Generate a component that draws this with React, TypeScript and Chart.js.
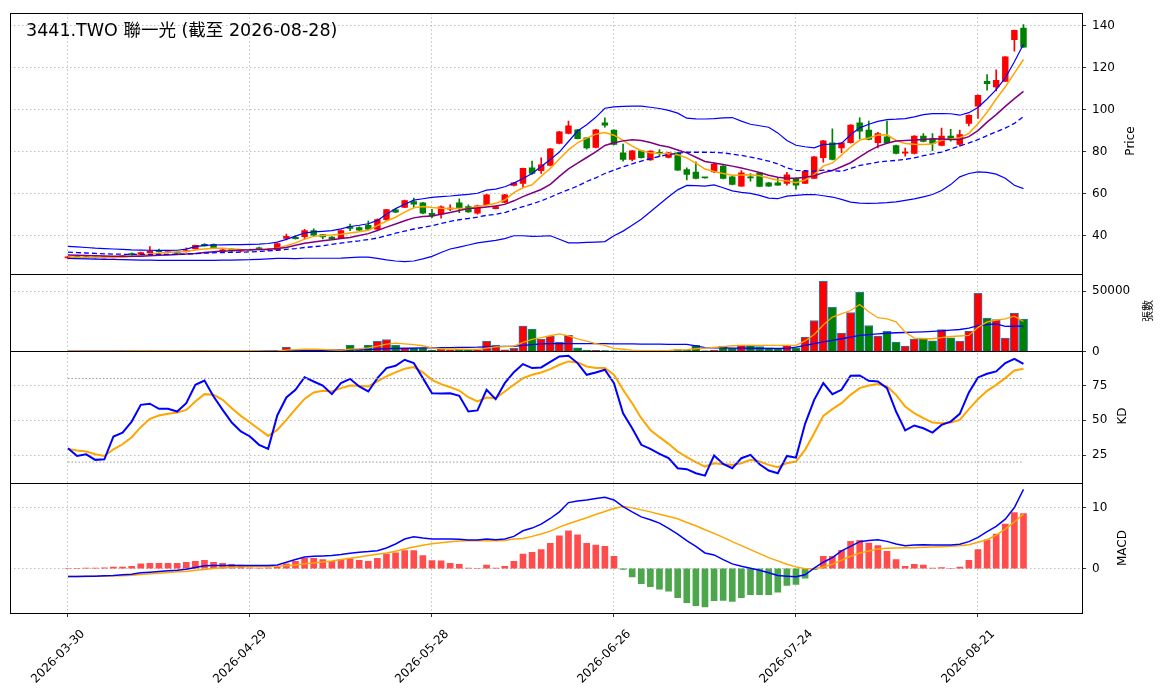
import { useEffect, useRef } from "react"
import { Chart, registerables } from "chart.js"

Chart.register(...registerables)

const TITLE = "3441.TWO 聯一光 (截至 2026-08-28)"

// x ticks (trading-day index -> date label)
const TICK_POS = [0, 20, 40, 60, 80, 100]
const TICK_LABELS = ["2026-03-30", "2026-04-29", "2026-05-28", "2026-06-26", "2026-07-24", "2026-08-21"]

const PRICE_TICKS = [40, 60, 80, 100, 120, 140]
const VOL_TICKS = [0, 50000]
const KD_TICKS = [25, 50, 75]
const MACD_TICKS = [0, 10]
const KD_LEVELS = [80, 20]

// daily candles
const OPEN = [
  29.5, 29.9, 29.8, 29.7, 29.5, 29.5, 29.9, 31.4, 31.1, 32.0,
  32.9, 32.0, 32.2, 32.4, 33.8, 35.9, 35.9, 32.5, 33.7, 32.7,
  33.3, 34.3, 33.2, 33.2, 38.7, 39.2, 39.5, 42.5, 40.5, 39.4,
  38.9, 44.4, 43.9, 45.0, 43.1, 47.6, 52.3, 53.5, 56.2, 55.7,
  50.6, 50.2, 52.6, 55.7, 53.9, 50.7, 54.8, 52.9, 55.8, 63.9,
  64.9, 72.3, 70.9, 73.4, 83.9, 88.6, 90.4, 86.6, 82.0, 93.7,
  90.2, 79.4, 76.3, 80.4, 76.0, 79.6, 77.2, 79.4, 71.4, 70.3,
  67.7, 70.3, 73.1, 68.0, 63.6, 68.0, 69.9, 65.2, 65.2, 64.9,
  67.3, 64.9, 67.3, 77.1, 84.2, 81.7, 84.2, 93.7, 90.2, 84.2,
  87.0, 82.9, 79.3, 79.1, 87.4, 86.1, 82.9, 87.4, 83.4, 93.4,
  101.6, 113.4, 110.8, 113.4, 133.2, 138.7,
]
const HIGH = [
  30.3, 30.1, 30.0, 29.9, 29.9, 30.2, 30.6, 31.9, 32.2, 34.8,
  33.6, 32.6, 32.5, 34.2, 35.6, 36.3, 36.1, 33.6, 34.0, 33.4,
  33.6, 34.6, 33.9, 36.5, 40.8, 40.0, 43.0, 43.3, 40.6, 39.6,
  42.7, 45.6, 44.2, 47.0, 48.0, 52.6, 52.6, 56.9, 57.9, 55.9,
  52.6, 54.2, 54.7, 57.5, 54.7, 54.6, 59.7, 54.2, 59.7, 65.4,
  72.2, 75.5, 77.0, 81.5, 89.6, 94.5, 90.6, 86.8, 90.6, 96.0,
  90.4, 83.6, 80.6, 80.6, 80.4, 81.0, 79.6, 79.6, 72.3, 75.1,
  67.8, 74.6, 73.3, 68.2, 71.0, 69.6, 70.1, 65.4, 67.4, 70.1,
  67.5, 70.8, 77.7, 85.3, 90.8, 84.4, 92.8, 96.1, 94.5, 89.2,
  94.5, 83.1, 81.7, 87.6, 88.6, 88.6, 91.2, 90.6, 90.2, 97.5,
  107.0, 116.6, 118.9, 125.2, 137.8, 140.4,
]
const LOW = [
  29.0, 29.3, 29.3, 29.2, 29.3, 29.3, 29.7, 30.8, 30.9, 31.8,
  32.2, 31.8, 31.5, 32.2, 33.6, 35.0, 34.1, 32.3, 32.6, 32.5,
  32.8, 33.5, 33.0, 33.0, 38.0, 38.4, 38.4, 40.0, 38.5, 38.2,
  38.7, 42.4, 42.5, 42.9, 42.9, 47.3, 51.0, 53.3, 53.5, 50.5,
  48.6, 48.3, 51.9, 51.0, 51.1, 50.2, 54.6, 52.7, 55.6, 63.7,
  62.8, 69.2, 69.6, 73.2, 83.7, 88.4, 86.0, 81.2, 81.8, 91.6,
  83.2, 75.5, 75.6, 76.9, 75.8, 77.6, 77.0, 71.0, 66.5, 67.0,
  67.4, 70.0, 67.0, 64.2, 63.4, 66.0, 63.3, 63.4, 63.9, 64.0,
  62.1, 64.7, 67.1, 75.0, 76.1, 79.5, 84.0, 86.0, 85.6, 81.7,
  84.0, 78.9, 77.8, 78.9, 84.6, 80.5, 82.7, 85.0, 82.6, 92.2,
  95.8, 109.2, 108.9, 113.2, 127.8, 129.5,
]
const CLOSE = [
  29.8, 29.6, 29.5, 29.4, 29.6, 29.9, 30.4, 31.0, 32.0, 32.6,
  32.4, 32.3, 31.7, 33.0, 35.4, 35.2, 34.3, 33.3, 32.8, 33.1,
  33.0, 33.7, 33.6, 36.3, 39.7, 38.6, 42.4, 40.3, 39.4, 38.4,
  42.5, 43.5, 42.7, 43.1, 47.7, 52.4, 51.2, 56.7, 55.0, 50.7,
  49.4, 53.7, 53.2, 53.4, 51.3, 54.2, 59.5, 53.9, 59.5, 65.2,
  72.0, 69.6, 73.7, 81.3, 89.4, 92.3, 86.2, 81.8, 90.4, 92.6,
  83.4, 76.3, 80.4, 77.1, 80.2, 79.0, 79.4, 71.2, 69.2, 67.3,
  67.5, 73.9, 67.2, 64.4, 69.9, 67.5, 63.5, 63.6, 64.1, 69.0,
  64.0, 70.6, 77.5, 85.1, 76.3, 84.2, 92.6, 89.7, 85.8, 88.6,
  84.2, 79.1, 79.5, 87.4, 84.8, 83.9, 87.4, 85.8, 88.1, 97.3,
  106.8, 112.3, 113.9, 125.0, 137.6, 129.7,
]

// price overlays
const MA5 = [
  29.9, 29.8, 29.7, 29.6, 29.6, 29.6, 29.8, 30.1, 30.6, 31.3,
  31.7, 32.1, 32.3, 32.5, 33.2, 33.7, 34.0, 34.0, 33.7, 33.4,
  33.3, 33.4, 33.5, 34.1, 35.2, 36.6, 38.4, 39.7, 40.1, 40.3,
  40.7, 41.3, 41.9, 42.6, 44.8, 47.0, 48.8, 51.2, 53.3, 53.9,
  53.4, 53.1, 52.9, 52.9, 52.9, 53.9, 54.5, 55.4, 57.0, 60.5,
  62.8, 64.2, 68.3, 72.0, 76.5, 80.8, 84.2, 86.4, 88.3, 89.1,
  87.8, 85.3, 82.6, 80.4, 79.4, 79.1, 79.0, 78.5, 77.0, 74.5,
  71.7, 70.5, 69.6, 68.8, 68.9, 69.0, 68.5, 67.5, 66.4, 66.2,
  65.2, 66.5, 69.0, 73.1, 74.6, 78.3, 82.2, 85.5, 86.5, 87.9,
  88.0, 85.3, 83.8, 83.5, 83.4, 83.6, 85.4, 86.0, 86.6, 88.7,
  93.2, 98.7, 105.0, 110.8, 117.3, 123.8,
]
const MA10 = [
  30.8, 30.7, 30.6, 30.5, 30.4, 30.3, 30.2, 30.2, 30.3, 30.5,
  30.7, 30.9, 31.1, 31.3, 31.6, 32.0, 32.4, 32.7, 32.9, 33.2,
  33.3, 33.5, 33.6, 33.9, 34.4, 35.5, 36.4, 37.0, 37.6, 38.1,
  38.7, 39.2, 40.1, 41.0, 42.5, 44.1, 45.6, 47.1, 48.5, 49.1,
  49.4, 50.2, 51.0, 52.0, 52.9, 53.2, 53.7, 54.1, 54.9, 56.6,
  58.6, 60.3, 62.0, 64.4, 68.2, 71.8, 74.5, 77.2, 79.9, 82.9,
  84.2, 85.1, 85.6, 85.3, 84.3, 83.0, 82.2, 80.8, 79.4, 77.3,
  75.3, 74.6, 73.9, 73.1, 72.2, 71.2, 70.1, 68.8, 67.8, 67.3,
  67.3, 67.8, 68.5, 70.0, 71.0, 72.8, 74.7, 77.5, 80.2, 82.5,
  84.0, 85.0, 85.3, 85.5, 85.8, 86.1, 86.0, 85.8, 85.8, 87.1,
  90.0, 94.0, 97.6, 101.5, 105.2, 108.6,
]
const BB_UPPER = [
  34.9, 34.7, 34.4, 34.1, 33.9, 33.7, 33.5, 33.3, 33.2, 33.1,
  33.0, 33.0, 33.1, 33.6, 34.8, 35.4, 35.6, 35.7, 35.8, 35.8,
  35.9, 36.0, 36.3, 37.0, 38.3, 39.8, 41.3, 41.8, 42.1, 42.4,
  43.3, 44.4, 45.0, 45.7, 47.3, 50.2, 52.9, 55.0, 56.9, 57.6,
  58.2, 58.6, 58.9, 59.3, 59.7, 60.2, 61.7, 62.2, 63.3, 65.0,
  67.2, 69.6, 72.9, 76.2, 79.8, 84.8, 89.8, 92.8, 96.3, 100.6,
  101.3, 101.5, 101.6, 101.6, 101.1, 100.5, 99.6, 98.3, 95.9, 95.6,
  95.5, 95.7, 96.0, 96.2, 94.5, 93.0, 92.3, 91.6, 88.9, 85.3,
  83.0, 82.3, 81.8, 83.4, 83.6, 83.9, 88.0, 91.3, 93.0, 94.4,
  95.2, 95.4, 95.7, 96.5, 97.6, 98.1, 98.1, 98.0, 97.3, 98.5,
  101.0, 105.0, 109.5, 115.0, 122.7, 131.0,
]
const BB_MID = [
  32.2, 32.0, 31.8, 31.6, 31.4, 31.3, 31.2, 31.1, 31.1, 31.1,
  31.1, 31.1, 31.2, 31.3, 31.5, 31.7, 31.9, 32.0, 32.1, 32.2,
  32.3, 32.5, 32.8, 33.1, 33.5, 33.9, 34.4, 34.8, 35.2, 35.9,
  36.5, 37.1, 37.6, 38.2, 38.9, 40.0, 41.2, 42.2, 43.2, 44.0,
  44.8, 45.8, 46.8, 47.6, 48.2, 48.9, 49.7, 50.2, 51.0, 52.5,
  53.8, 55.1, 56.6, 58.3, 60.2, 61.9, 63.6, 65.8, 67.5, 69.6,
  71.2, 72.8, 74.2, 75.5, 76.6, 77.7, 78.6, 79.2, 79.7, 79.7,
  79.7, 79.6, 79.4, 78.8, 78.2, 77.4, 76.5, 75.5, 74.2, 72.2,
  71.1, 70.9, 70.7, 71.2, 71.0, 70.6, 72.0, 73.4, 74.2, 75.0,
  75.5, 75.8, 76.3, 77.0, 78.1, 78.9, 79.8, 81.2, 82.7, 84.1,
  85.7, 87.6, 89.4, 91.2, 93.4, 96.7,
]
const BB_LOWER = [
  29.2, 29.1, 29.0, 28.9, 28.8, 28.7, 28.6, 28.5, 28.4, 28.4,
  28.3, 28.3, 28.3, 28.3, 28.3, 28.3, 28.3, 28.4, 28.4, 28.5,
  28.6, 28.8, 29.0, 29.2, 29.2, 29.1, 29.3, 29.3, 29.3, 29.3,
  29.4, 29.6, 29.8, 29.8, 29.2, 28.5, 28.0, 27.7, 28.0, 29.0,
  30.2, 32.0, 33.7, 34.6, 35.6, 36.6, 37.2, 37.8, 38.6, 40.0,
  40.0, 39.7, 39.8, 40.0, 38.3, 36.6, 36.6, 36.8, 37.0, 37.2,
  40.0, 42.2, 45.0, 47.8, 51.4, 55.0, 58.5, 61.8, 63.9, 63.8,
  63.6, 64.2, 62.8, 61.3, 60.6, 60.1, 59.2, 57.9, 57.6, 58.8,
  59.2, 59.5, 59.6, 59.0, 58.4, 57.3, 56.0, 55.5, 55.4, 55.5,
  55.7, 56.1, 56.8, 57.5, 58.5, 59.6, 61.5, 64.3, 68.0, 69.6,
  70.4, 70.1, 69.3, 67.3, 64.0, 62.4,
]

// volume (張) and its averages
const VOLUME = [
  300, 250, 200, 280, 220, 300, 350, 400, 380, 450,
  350, 300, 280, 380, 500, 420, 400, 300, 320, 250,
  280, 300, 280, 600, 3600, 800, 1900, 1400, 800, 600,
  1500, 5200, 900, 5200, 8300, 9900, 5200, 2500, 3000, 3000,
  1000, 1900, 1400, 1900, 1400, 1400, 8600, 5200, 1300, 2500,
  21000, 18500, 10200, 12700, 7700, 13300, 3000, 1100, 800, 600,
  500, 400, 400, 300, 300, 300, 500, 1500, 1100, 5000,
  500, 1100, 4400, 2500, 5200, 5200, 4100, 3000, 2500, 5200,
  3000, 11900, 25700, 58300, 36700, 15200, 32300, 49200, 21500, 12700,
  16600, 7700, 4400, 10200, 11000, 8800, 18200, 11300, 8600, 16800,
  48300, 27600, 26500, 11000, 31800, 26800,
]
const VOL_MA5 = [
  300, 280, 260, 260, 250, 260, 300, 330, 350, 380,
  390, 380, 350, 350, 380, 390, 400, 400, 380, 340,
  310, 300, 290, 350, 1100, 1400, 1800, 1900, 1600, 1200,
  1100, 1900, 2300, 3000, 4400, 6000, 6800, 6200, 5600, 4700,
  3000, 2200, 2000, 1800, 1600, 1600, 2800, 3700, 4000, 4300,
  7500, 10000, 11500, 13000, 14600, 13000, 10500, 8500, 6500, 5000,
  2500, 1800, 1100, 700, 550, 600, 800, 1200, 1500, 2200,
  2800, 3400, 4000, 4700, 5000, 5000, 5000, 5000, 5000, 5000,
  5000, 8700, 14000, 22000, 28500, 31200, 34000, 39000, 33000, 28000,
  27000, 24500, 16000, 11000, 10500, 10500, 11500, 12400, 12800, 13300,
  20000, 24500, 26000, 27000, 29300, 24900,
]
const VOL_MA20 = [
  200, 200, 200, 200, 200, 200, 200, 200, 200, 200,
  200, 200, 200, 200, 200, 200, 200, 200, 200, 200,
  250, 300, 350, 450, 650, 700, 800, 900, 950, 1000,
  1050, 1200, 1300, 1550, 1900, 2300, 2500, 2600, 2800, 2950,
  3000, 3100, 3200, 3300, 3400, 3500, 3800, 4000, 4100, 4200,
  5000, 5700, 6300, 6400, 6400, 6500, 6400, 6400, 6400, 6400,
  6300, 6300, 6200, 6100, 6000, 6000, 5900, 5800, 5800, 4500,
  3200, 3000, 2900, 2800, 2700, 2600, 2500, 2500, 2500, 2500,
  3500, 5000, 6500, 8000, 9200, 10500, 11800, 13300, 14000, 14600,
  15100, 15500, 15700, 16000, 16300, 16700, 17000, 17600, 18200, 19300,
  21500, 22300, 22900, 20800, 20900, 21000,
]

// stochastic
const K = [
  30.0, 24.4, 25.6, 21.6, 22.0, 38.4, 41.2, 49.1, 61.1, 61.9,
  58.3, 58.3, 56.3, 62.3, 75.5, 78.6, 67.1, 57.5, 48.4, 42.0,
  38.4, 32.4, 29.5, 53.5, 66.4, 71.9, 81.0, 77.9, 75.0, 68.8,
  76.7, 79.8, 74.3, 70.7, 80.3, 87.5, 89.2, 93.5, 91.1, 80.3,
  69.5, 69.3, 69.5, 67.6, 56.3, 57.1, 71.9, 65.2, 76.7, 84.6,
  90.4, 87.5, 88.0, 92.0, 95.9, 96.4, 91.1, 82.7, 84.4, 86.3,
  76.7, 55.1, 44.3, 32.4, 29.5, 25.9, 22.8, 15.6, 14.9, 12.0,
  10.3, 24.7, 18.7, 15.6, 22.8, 25.2, 18.4, 13.9, 12.0, 24.4,
  23.2, 47.5, 64.7, 76.7, 68.8, 71.9, 82.0, 82.2, 78.4, 77.9,
  73.1, 56.3, 42.7, 46.3, 44.3, 41.2, 46.7, 49.1, 54.7, 70.0,
  80.8, 83.4, 85.1, 91.1, 94.2, 90.6,
]
const D = [
  29.5, 28.3, 27.6, 25.6, 24.4, 29.2, 32.8, 37.9, 45.1, 51.1,
  53.5, 54.7, 55.6, 57.5, 63.5, 68.8, 68.3, 64.7, 58.7, 53.2,
  48.4, 43.6, 38.8, 43.1, 50.3, 58.0, 65.4, 70.0, 71.2, 70.7,
  73.1, 75.0, 74.8, 74.3, 77.9, 81.5, 84.4, 87.0, 88.2, 84.4,
  79.1, 76.0, 73.8, 71.4, 66.6, 63.5, 66.4, 65.9, 70.7, 75.5,
  80.3, 82.7, 84.4, 86.8, 89.9, 92.3, 91.6, 88.7, 87.5, 87.5,
  82.7, 71.9, 62.3, 51.5, 43.1, 37.9, 33.1, 27.6, 23.5, 19.9,
  16.8, 19.2, 18.4, 18.0, 19.2, 21.6, 20.4, 18.0, 16.3, 19.2,
  20.4, 28.8, 40.7, 53.2, 58.0, 62.3, 68.3, 73.1, 75.0, 76.0,
  74.3, 68.3, 59.9, 55.1, 51.5, 48.4, 47.9, 48.4, 50.3, 58.0,
  65.2, 71.2, 75.5, 80.3, 85.8, 87.0,
]

// MACD
const DIF = [
  -1.31, -1.31, -1.26, -1.26, -1.2, -1.15, -1.04, -0.93, -0.71, -0.6,
  -0.49, -0.38, -0.27, -0.11, 0.16, 0.44, 0.49, 0.49, 0.49, 0.49,
  0.49, 0.49, 0.49, 0.6, 1.04, 1.48, 1.91, 2.02, 2.08, 2.13,
  2.3, 2.51, 2.68, 2.79, 2.95, 3.39, 4.04, 4.86, 5.25, 5.03,
  4.86, 4.86, 4.86, 4.81, 4.7, 4.7, 4.86, 4.75, 4.86, 5.3,
  6.23, 6.67, 7.32, 8.25, 9.34, 10.87, 11.15, 11.31, 11.53, 11.75,
  11.31, 10.22, 9.34, 8.52, 8.03, 7.49, 6.61, 5.68, 4.59, 3.66,
  2.57, 2.24, 1.48, 0.77, 0.38, 0.05, -0.27, -0.71, -1.15, -1.26,
  -1.37, -1.04, 0.05, 1.04, 1.8, 2.9, 3.66, 4.43, 4.64, 4.75,
  4.48, 4.04, 3.77, 3.88, 3.93, 3.88, 3.88, 3.88, 3.99, 4.43,
  5.14, 6.07, 6.94, 8.14, 10.05, 13.06,
]
const SIGNAL = [
  -1.31, -1.31, -1.31, -1.26, -1.26, -1.2, -1.2, -1.09, -0.98, -0.87,
  -0.77, -0.66, -0.55, -0.49, -0.27, -0.16, 0.0, 0.16, 0.22, 0.27,
  0.33, 0.33, 0.33, 0.38, 0.49, 0.6, 0.77, 0.93, 1.09, 1.26,
  1.48, 1.69, 1.91, 2.13, 2.35, 2.57, 2.84, 3.22, 3.55, 3.83,
  4.1, 4.26, 4.43, 4.54, 4.59, 4.59, 4.59, 4.59, 4.64, 4.86,
  4.97, 5.3, 5.68, 6.17, 6.83, 7.38, 7.87, 8.36, 8.91, 9.4,
  9.89, 10.22, 10.0, 9.67, 9.34, 8.96, 8.58, 8.2, 7.6, 7.05,
  6.39, 5.79, 5.14, 4.43, 3.77, 3.11, 2.46, 1.8, 1.26, 0.71,
  0.27, -0.05, 0.0, 0.27, 0.71, 1.37, 2.02, 2.57, 2.9, 3.22,
  3.33, 3.39, 3.44, 3.44, 3.5, 3.55, 3.61, 3.66, 3.77, 3.93,
  4.32, 4.75, 5.52, 6.5, 7.7, 8.96,
]
const HIST = [
  0.0, 0.0, 0.05, 0.05, 0.1, 0.22, 0.22, 0.38, 0.77, 0.87,
  0.87, 0.87, 0.87, 1.04, 1.2, 1.37, 1.04, 0.87, 0.71, 0.55,
  0.1, 0.05, 0.1, 0.2, 0.77, 1.2, 1.69, 1.69, 1.48, 1.2,
  1.48, 1.58, 1.37, 1.2, 1.69, 2.4, 2.57, 2.95, 2.95, 2.13,
  1.31, 1.26, 0.87, 0.71, 0.05, 0.0, 0.55, 0.05, 0.38, 1.2,
  2.4, 2.68, 3.11, 4.15, 5.41, 6.23, 5.57, 4.15, 3.88, 3.66,
  2.02, -0.16, -1.37, -2.51, -3.0, -3.39, -3.72, -4.81, -5.63, -6.12,
  -6.34, -5.3, -5.25, -5.41, -4.81, -4.32, -4.32, -4.32, -3.88, -2.79,
  -2.62, -1.58, -0.2, 2.02, 2.02, 3.0, 4.48, 4.64, 4.21, 3.77,
  2.84, 1.48, 0.38, 0.71, 0.55, 0.05, 0.16, 0.0, 0.22, 1.37,
  3.11, 4.75, 5.68, 7.32, 9.23, 9.07,
]

const UP = "#ff0000"
const DOWN = "#008000"
const GRID = "#b0b0b0"
const FONT = "DejaVu Sans"

const IDX = CLOSE.map((_, i) => i)
const candleColor = IDX.map((i) => (CLOSE[i] >= OPEN[i] ? UP : DOWN))

const pts = (values: number[]) => values.map((v, i) => ({ x: i, y: v }))

function line(values: number[], yAxisID: string, color: string, width: number, dash: number[] = []) {
  return {
    type: "line" as const,
    data: pts(values),
    borderColor: color,
    borderWidth: width,
    borderDash: dash,
    pointRadius: 0,
    tension: 0,
    xAxisID: "x",
    yAxisID,
    order: 1,
  }
}

function bars(data: any[], yAxisID: string, color: any, thickness: number, extra: any = {}) {
  return {
    type: "bar" as const,
    data,
    backgroundColor: color,
    barThickness: thickness,
    grouped: false,
    xAxisID: "x",
    yAxisID,
    order: 10,
    ...extra,
  }
}

const fixedTicks = (values: number[]) => (scale: any) => {
  scale.ticks = values.map((v) => ({ value: v }))
}

function yAxis(order: number, stackWeight: number, min: number, max: number, ticks: number[]) {
  return {
    type: "linear" as const,
    position: "right" as const,
    stack: "panels",
    stackWeight,
    weight: order,
    min,
    max,
    afterBuildTicks: fixedTicks(ticks),
    afterFit: (scale: any) => {
      scale.width = 81
    },
    ticks: {
      color: "#000",
      padding: 6,
      font: { family: FONT, size: 12 },
      callback: (v: any) => String(v),
    },
    grid: { color: GRID, tickColor: "#000", tickLength: 4, lineWidth: 0.8 },
    border: { display: false, dash: [1.5, 2.5] },
  }
}

// black frame around every panel
const framePlugin = {
  id: "panelFrames",
  afterDraw(chart: any) {
    const { ctx, chartArea } = chart
    ctx.save()
    ctx.strokeStyle = "#000"
    ctx.lineWidth = 1
    for (const id of ["yPrice", "yVol", "yKD", "yMACD"]) {
      const s = chart.scales[id]
      const top = Math.round(s.top) + 0.5
      const bottom = Math.round(s.bottom) + 0.5
      ctx.strokeRect(Math.round(chartArea.left) + 0.5, top, Math.round(chartArea.right - chartArea.left), bottom - top)
    }
    ctx.restore()
  },
}

const axisTitle = (text: string, cx: number, cy: number, size: number, family: string) => (
  <div
    style={{
      position: "absolute",
      left: cx,
      top: cy,
      transform: "translate(-50%, -50%) rotate(-90deg)",
      fontFamily: family,
      fontSize: size,
      whiteSpace: "nowrap",
      color: "#000",
      lineHeight: 1,
    }}
  >
    {text}
  </div>
)

export default function App() {
  const chartRef = useRef<HTMLCanvasElement>(null)
  const chartInstance = useRef<Chart | null>(null)

  useEffect(() => {
    if (!chartRef.current) return
    if (chartInstance.current) chartInstance.current.destroy()
    const ctx = chartRef.current.getContext("2d")
    if (!ctx) return

    const macdColor = HIST.map((v) => (v >= 0 ? "rgba(255,0,0,0.7)" : "rgba(0,128,0,0.7)"))

    chartInstance.current = new Chart(ctx, {
      type: "bar",
      data: {
        datasets: [
          // price panel
          bars(IDX.map((i) => ({ x: i, y: [LOW[i], HIGH[i]] })), "yPrice", candleColor, 1, { order: 12 }),
          bars(IDX.map((i) => ({ x: i, y: [OPEN[i], CLOSE[i]] })), "yPrice", candleColor, 5.8, { order: 11, minBarLength: 1 }),
          line(BB_UPPER, "yPrice", "#0000ff", 1.2),
          line(BB_LOWER, "yPrice", "#0000ff", 1.2),
          line(BB_MID, "yPrice", "#0000ff", 1.3, [5, 3]),
          line(MA10, "yPrice", "#800080", 1.5),
          line(MA5, "yPrice", "#ffa500", 1.5),
          // volume panel
          bars(pts(VOLUME), "yVol", candleColor, 8.2, { borderColor: "#2a7ab0", borderWidth: 1 }),
          line(VOL_MA5, "yVol", "#ffa500", 1.3),
          line(VOL_MA20, "yVol", "#0000ff", 1.3),
          // KD panel
          ...KD_LEVELS.map((lv) => ({
            ...line([], "yKD", "#999999", 1, [1.5, 2]),
            data: [
              { x: 0, y: lv },
              { x: CLOSE.length - 1, y: lv },
            ],
          })),
          line(K, "yKD", "#0000ff", 2),
          line(D, "yKD", "#ffa500", 2),
          // MACD panel
          bars(pts(HIST), "yMACD", macdColor, 6),
          line(DIF, "yMACD", "#0000ff", 1.5),
          line(SIGNAL, "yMACD", "#ffa500", 1.5),
        ] as any,
      },
      options: {
        animation: false,
        responsive: true,
        maintainAspectRatio: false,
        events: [],
        layout: { padding: { left: 10, top: 10, right: 0, bottom: 0 } },
        plugins: {
          legend: { display: false },
          tooltip: { enabled: false },
          title: { display: false },
        },
        scales: {
          x: {
            type: "linear",
            offset: false,
            min: -6.37,
            max: 111.43,
            afterBuildTicks: fixedTicks(TICK_POS),
            afterFit: (scale: any) => {
              scale.height = 85
            },
            ticks: {
              autoSkip: false,
              minRotation: 45,
              maxRotation: 45,
              color: "#000",
              padding: 10,
              labelOffset: 15,
              font: { family: FONT, size: 12 },
              callback: (v: any) => TICK_LABELS[TICK_POS.indexOf(Number(v))] ?? "",
            },
            grid: { offset: false, color: GRID, tickColor: "#000", tickLength: 4, lineWidth: 0.8 },
            border: { display: false, dash: [1.5, 2.5] },
          },
          yPrice: yAxis(0, 262, 21.9, 145.8, PRICE_TICKS),
          yVol: yAxis(1, 78, 0, 64500, VOL_TICKS),
          yKD: yAxis(2, 132, 5.2, 99.5, KD_TICKS),
          yMACD: yAxis(3, 131, -7.33, 14.15, MACD_TICKS),
        } as any,
      },
      plugins: [framePlugin],
    })

    return () => {
      if (chartInstance.current) {
        chartInstance.current.destroy()
        chartInstance.current = null
      }
    }
  }, [])

  return (
    <div style={{ position: "absolute", left: 0, top: 0, width: 1163, height: 698, background: "#fff" }}>
      <canvas ref={chartRef} />
      <div
        style={{
          position: "absolute",
          left: 26,
          top: 20,
          fontFamily: "'DejaVu Sans', 'Noto Sans CJK TC'",
          fontSize: 17.5,
          lineHeight: "20px",
          color: "#000",
          whiteSpace: "nowrap",
        }}
      >
        {TITLE}
      </div>
      {axisTitle("Price", 1130, 141, 12, "'DejaVu Sans'")}
      {axisTitle("張數", 1147, 311, 11, "'Noto Sans CJK TC'")}
      {axisTitle("KD", 1122, 416, 12, "'DejaVu Sans'")}
      {axisTitle("MACD", 1122, 548, 12, "'DejaVu Sans'")}
    </div>
  )
}
